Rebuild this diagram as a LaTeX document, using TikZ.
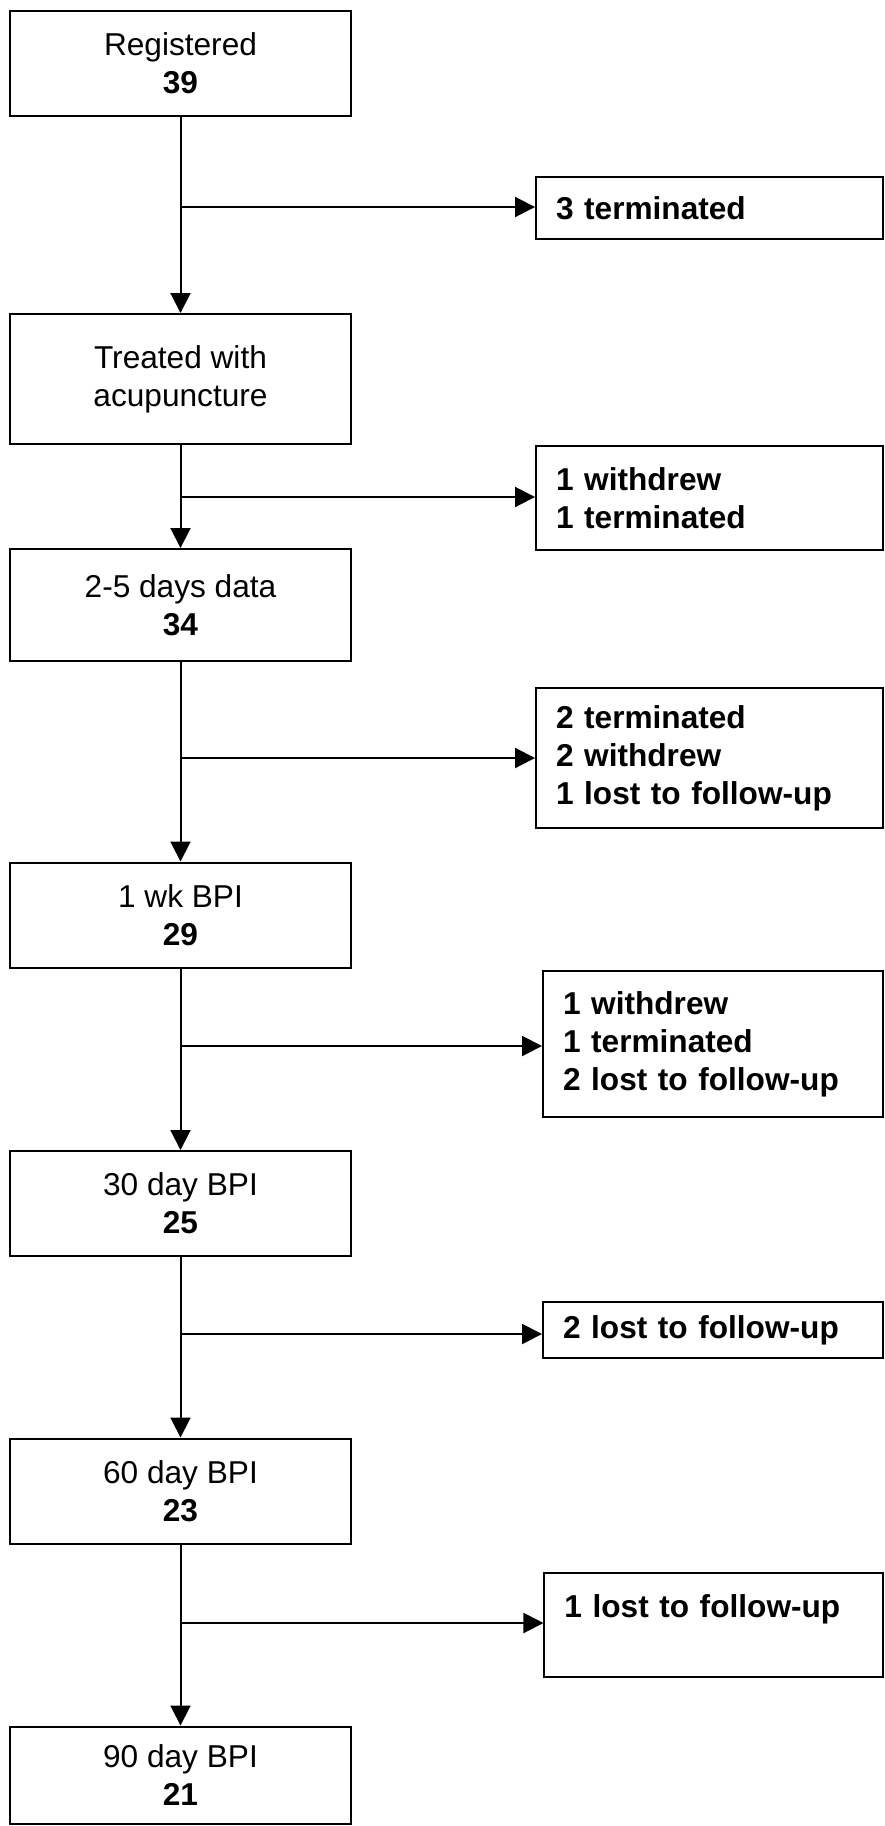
\documentclass[tikz,border=0pt]{standalone}
\usepackage{fontspec}
\setmainfont{Liberation Sans}
\usetikzlibrary{arrows.meta}

\begin{document}
\begin{tikzpicture}[x=0.02cm, y=-0.02cm, line width=0.04cm,
  font=\fontsize{18}{21.6}\selectfont,
  stage/.style={draw, minimum width=6.84cm, minimum height=#1, align=center, inner sep=0pt},
  lost/.style={draw, font=\fontsize{18}{21.6}\selectfont\bfseries, align=left, inner xsep=0.4cm, inner ysep=0pt, text width=#1},
  flow/.style={-{Triangle[length=0.4cm,width=0.4cm]}}]
\useasboundingbox (0,0) rectangle (885,1826);

\node[stage=2.1cm] (reg) at (180.5,63.5) {Registered\\\textbf{39}};
\node[stage=2.6cm] (treat) at (180.5,379) {Treated with\\acupuncture};
\node[stage=2.24cm] (days) at (180.5,605) {2-5 days data\\\textbf{34}};
\node[stage=2.1cm] (wk) at (180.5,915) {1 wk BPI\\\textbf{29}};
\node[stage=2.1cm] (d30) at (180.5,1203.5) {30 day BPI\\\textbf{25}};
\node[stage=2.1cm] (d60) at (180.5,1491) {60 day BPI\\\textbf{23}};
\node[stage=1.94cm] (d90) at (180.5,1775) {90 day BPI\\\textbf{21}};

\node[lost=6.14cm, minimum height=1.24cm] (t1) at (709.5,208) {3 terminated};
\node[lost=6.14cm, minimum height=2.08cm] (t2) at (709.5,498) {1 withdrew\\1 terminated};
\node[lost=6.14cm, minimum height=2.8cm] (t3) at (709.5,758) {2 terminated\\2 withdrew\\1 lost to follow-up};
\node[lost=6cm, minimum height=2.92cm] (t4) at (713,1044) {1 withdrew\\1 terminated\\2 lost to follow-up};
\node[lost=6cm, minimum height=1.12cm] (t5) at (713,1330) {2 lost to follow-up};
\node[lost=5.97cm, minimum height=2.08cm] (t6) at (713.7,1625) {1 lost to follow-up\\\mbox{}};

\draw[flow] (reg) -- (treat);
\draw[flow] (treat) -- (days);
\draw[flow] (days) -- (wk);
\draw[flow] (wk) -- (d30);
\draw[flow] (d30) -- (d60);
\draw[flow] (d60) -- (d90);

\coordinate (b1) at (180.5,207);
\coordinate (b2) at (180.5,497);
\coordinate (b3) at (180.5,758);
\coordinate (b4) at (180.5,1046);
\coordinate (b5) at (180.5,1334);
\coordinate (b6) at (180.5,1623);
\draw[flow] (b1) -- (b1 -| t1.west);
\draw[flow] (b2) -- (b2 -| t2.west);
\draw[flow] (b3) -- (b3 -| t3.west);
\draw[flow] (b4) -- (b4 -| t4.west);
\draw[flow] (b5) -- (b5 -| t5.west);
\draw[flow] (b6) -- (b6 -| t6.west);
\end{tikzpicture}
\end{document}
